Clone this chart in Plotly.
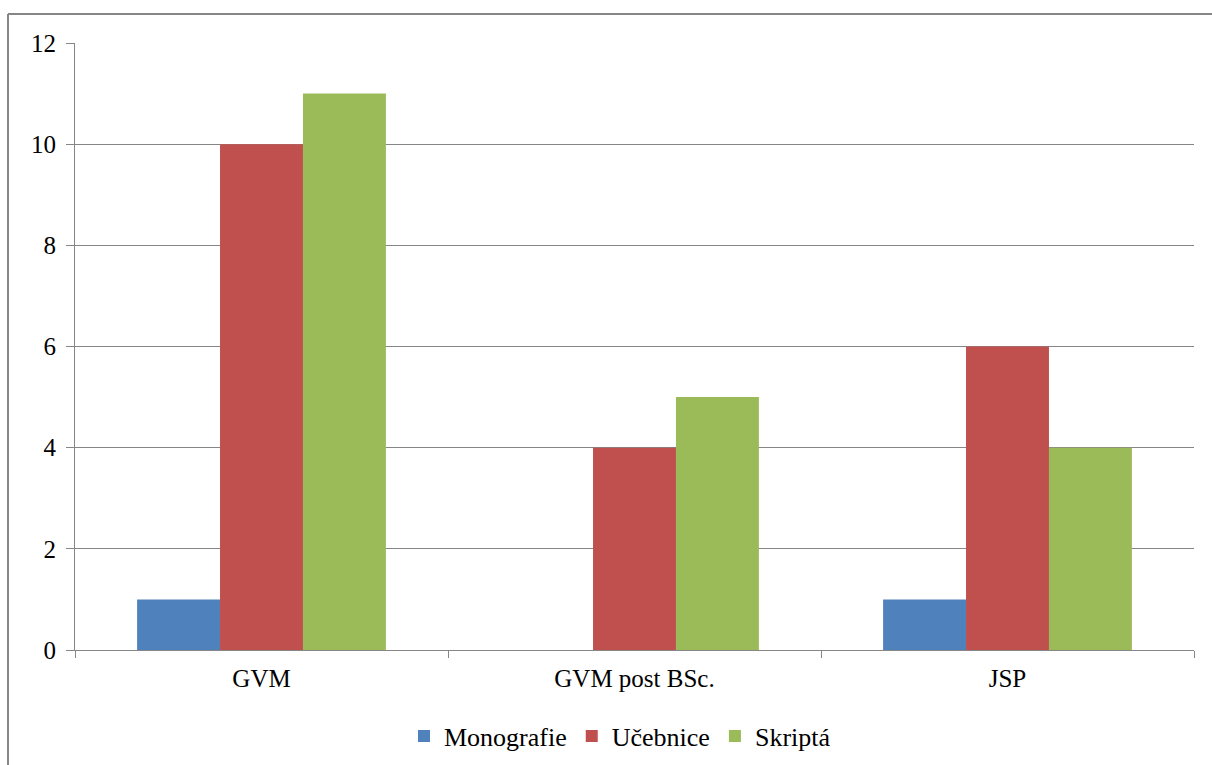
import plotly.graph_objects as go

categories = ["GVM", "GVM post BSc.", "JSP"]
monografie = [1, 0, 1]
ucebnice = [10, 4, 6]
skripta = [11, 5, 4]
y_ticks = [0, 2, 4, 6, 8, 10, 12]

W, H = 1212, 765
L, R, T, B = 75, 18, 43, 115
pw, ph = W - L - R, H - T - B

def px_x(p):
    return (p - L) / pw

def px_y(p):
    return (H - B - p) / ph

font_family = "Liberation Serif, Times New Roman, DejaVu Serif, serif"

fig = go.Figure()
fig.add_trace(go.Bar(name="Monografie", x=categories, y=monografie, marker_color="#4F81BD", marker_line_width=0))
fig.add_trace(go.Bar(name="Učebnice", x=categories, y=ucebnice, marker_color="#C0504D", marker_line_width=0))
fig.add_trace(go.Bar(name="Skriptá", x=categories, y=skripta, marker_color="#9BBB59", marker_line_width=0))

fig.update_layout(
    width=W, height=H,
    margin=dict(l=L, r=R, t=T, b=B, pad=0, autoexpand=False),
    paper_bgcolor="white", plot_bgcolor="white",
    barmode="group", bargap=0.333, bargroupgap=0,
    font=dict(family=font_family, size=25, color="black"),
    showlegend=True,
    legend=dict(orientation="h", x=px_x(620), xanchor="center", y=px_y(736), yanchor="middle",
                font=dict(family=font_family, size=26), itemsizing="constant",
                traceorder="normal", itemwidth=30, tracegroupgap=0),
    xaxis=dict(type="category", showgrid=False, showline=True, linecolor="#868686", linewidth=1,
               ticks="outside", tickson="boundaries", ticklen=7, tickcolor="#868686",
               ticklabelstandoff=6, automargin=False, tickfont=dict(family=font_family, size=25)),
    yaxis=dict(range=[0, 12], tickvals=y_ticks, showgrid=True, gridcolor="#868686", gridwidth=1,
               showline=True, linecolor="#868686", linewidth=1, zeroline=False,
               ticks="outside", ticklen=8, tickcolor="#868686", automargin=False,
               ticklabelstandoff=5, tickfont=dict(family=font_family, size=25)),
    shapes=[
        dict(type="line", xref="paper", yref="paper", x0=px_x(8), x1=px_x(8), y0=px_y(14), y1=px_y(780),
             line=dict(color="#868686", width=2)),
        dict(type="line", xref="paper", yref="paper", x0=px_x(8), x1=px_x(1230), y0=px_y(14), y1=px_y(14),
             line=dict(color="#868686", width=2)),
    ],
)

fig.write_html("out.html", config={"displayModeBar": False},
               post_script="document.body.style.margin='0';")
